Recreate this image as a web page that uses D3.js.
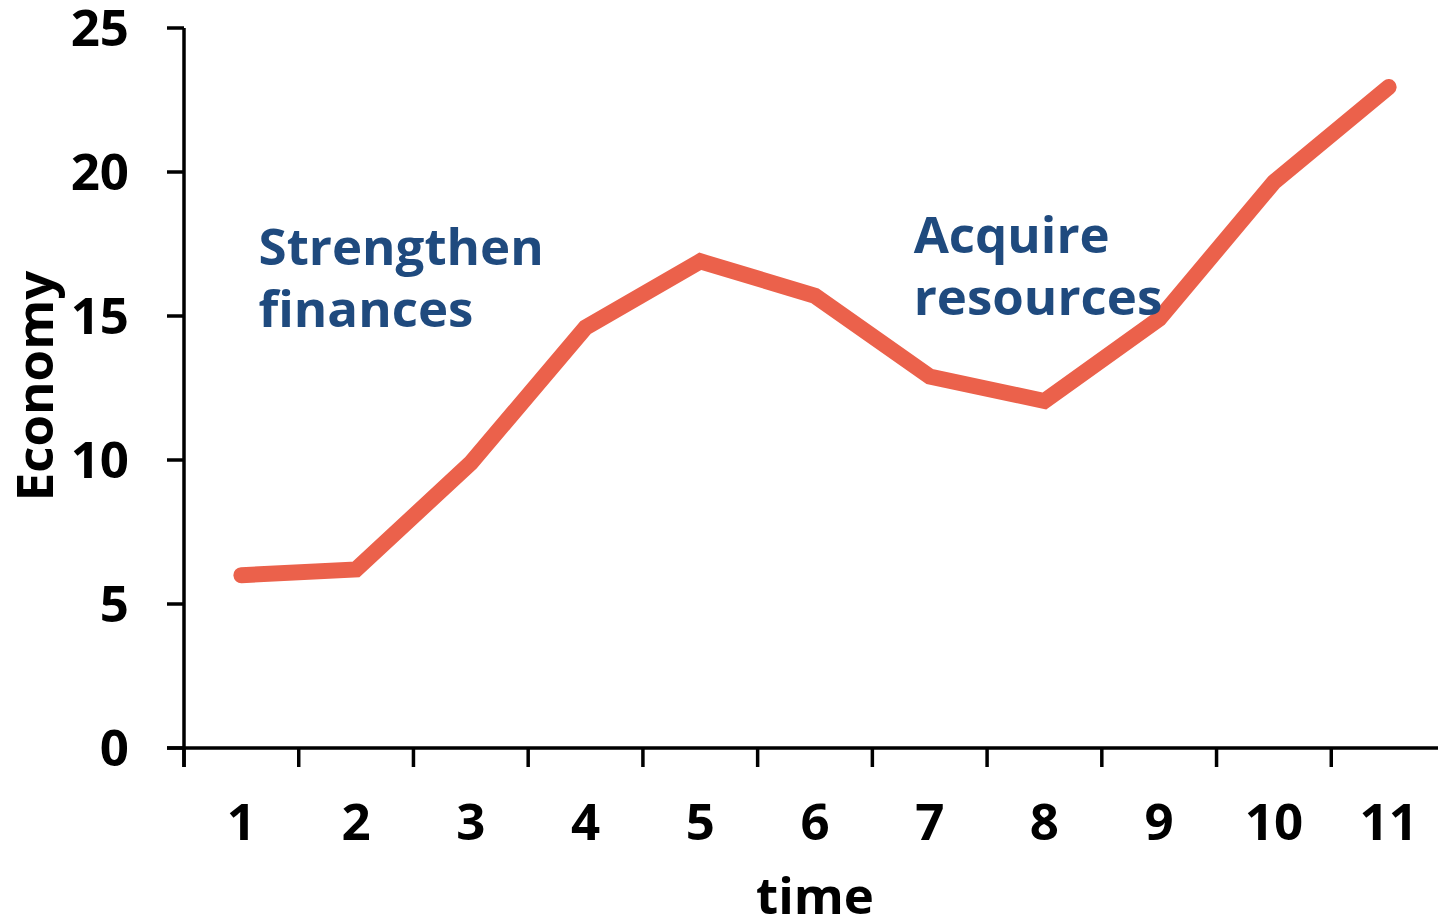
<!DOCTYPE html>
<html><head><meta charset="utf-8">
<script src="https://cdn.jsdelivr.net/npm/d3@7"></script>
<style>body{margin:0;background:#fff;} svg{display:block;font-family:"Open Sans",sans-serif;}</style>
</head><body>
<svg id="c" width="1438" height="920"></svg>
<script>
const categories = ["1","2","3","4","5","6","7","8","9","10","11"];
const values = [6.0, 6.2, 9.9, 14.6, 16.9, 15.7, 12.9, 12.05, 14.9, 19.65, 22.95];
const yTicks = [0, 5, 10, 15, 20, 25];
const annotations = [
  {lines: ["Strengthen", "finances"], x: 0.65, y: 16.77},
  {lines: ["Acquire", "resources"], x: 6.36, y: 17.19}
];

const svg = d3.select("#c");
const x = d3.scaleBand().domain(categories).range([184, 1446]).paddingInner(0).paddingOuter(0);
const y = d3.scaleLinear().domain([0, 25]).range([748, 28]);
const FS = 51;

// x axis
const gx = svg.append("g").attr("transform", "translate(0,748)");
gx.append("line").attr("x1", 167).attr("x2", 1446).attr("y1", 0).attr("y2", 0).attr("stroke", "#000").attr("stroke-width", 3.5);
gx.selectAll("line.t").data(categories).enter().append("line").attr("class","t")
  .attr("x1", d => x(d)).attr("x2", d => x(d)).attr("y1", 0).attr("y2", 19)
  .attr("stroke", "#000").attr("stroke-width", 3.5);
gx.selectAll("text").data(categories).enter().append("text")
  .attr("x", d => x(d) + x.bandwidth()/2).attr("y", 92)
  .attr("text-anchor", "middle").attr("font-size", FS).attr("font-weight", 700).attr("fill", "#000")
  .text(d => d);

// y axis
const gy = svg.append("g");
gy.append("line").attr("x1", 184).attr("x2", 184).attr("y1", 28).attr("y2", 767).attr("stroke", "#000").attr("stroke-width", 3.5);
gy.selectAll("line.t").data(yTicks).enter().append("line").attr("class","t")
  .attr("x1", 167).attr("x2", 184).attr("y1", d => y(d)).attr("y2", d => y(d))
  .attr("stroke", "#000").attr("stroke-width", 3.5);
gy.selectAll("text").data(yTicks).enter().append("text")
  .attr("x", 129).attr("y", d => y(d)).attr("dy", "0.36em")
  .attr("text-anchor", "end").attr("font-size", FS).attr("font-weight", 700).attr("fill", "#000")
  .text(d => d);

// axis titles
svg.append("text").attr("transform", "translate(53,386) rotate(-90)")
  .attr("text-anchor", "middle").attr("font-size", FS).attr("font-weight", 700).attr("fill", "#000").text("Economy");
svg.append("text").attr("x", 815).attr("y", 914)
  .attr("text-anchor", "middle").attr("font-size", FS).attr("font-weight", 700).attr("fill", "#000").text("time");

// line
const pts = categories.map((c, i) => ({c, v: values[i]}));
svg.append("path").datum(pts)
  .attr("d", d3.line().x(d => x(d.c) + x.bandwidth()/2).y(d => y(d.v)))
  .attr("fill", "none").attr("stroke", "#EB614B").attr("stroke-width", 16)
  .attr("stroke-linecap", "round").attr("stroke-linejoin", "miter");

// annotations
const xl = d3.scaleLinear().domain([0, categories.length]).range([184, 1446]);
annotations.forEach(a => {
  const t = svg.append("text").attr("x", xl(a.x)).attr("y", y(a.y))
    .attr("font-size", FS).attr("font-weight", 700).attr("fill", "#1F4A7E");
  a.lines.forEach((l, i) => t.append("tspan").attr("x", xl(a.x)).attr("dy", i === 0 ? 0 : 62).text(l));
});
</script>
</body></html>
